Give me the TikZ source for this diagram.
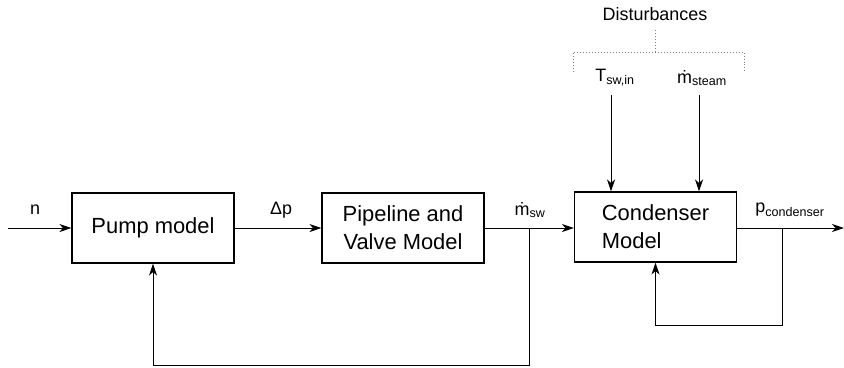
\documentclass[tikz,border=0pt]{standalone}
\usepackage{fontspec}
\setmainfont{Liberation Sans}
\usetikzlibrary{arrows.meta}
\begin{document}
\begin{tikzpicture}[x=1bp, y=-1bp,
  block/.style={draw, line width=1.1bp, minimum width=162bp, minimum height=70bp,
    inner sep=0pt, font=\fontsize{22}{28}\selectfont},
  sig/.style={font=\fontsize{18}{20}\selectfont, inner sep=0pt},
  flow/.style={line width=1bp, -{Stealth[length=12bp, width=8bp, inset=3.5bp]}},
  bracket/.style={gray, dotted, line width=1bp}]
\useasboundingbox (0,0) rectangle (844,367);
% blocks
\node (pump) [block] at (153,228) {Pump model};
\node (pipe) [block, align=center] at (403,228) {Pipeline and\\Valve Model};
\node (cond) [block, align=left] at (655.5,227) {Condenser\\Model};
% signal labels
\node (n) [sig] at (35,210) {n};
\node (dp) [sig] at (281,210) {Δp};
\node (msw) [sig] at (530,210) {\.{m}\textsubscript{sw}};
\node (pc) [sig] at (790,210) {p\textsubscript{condenser}};
\node (tsw) [sig] at (615,78) {T\textsubscript{sw,in}};
\node (mst) [sig] at (702,78) {\.{m}\textsubscript{steam}};
\node (dist) [sig] at (655,14) {Disturbances};
% connection points
\coordinate (in) at (8,228);
\coordinate (br1) at (529,228);
\coordinate (br2) at (782,228);
\coordinate (out) at (844,228);
\coordinate (tin) at (611,95);
\coordinate (sin) at (699,95);
% signals
\draw [flow] (in) -- (pump);
\draw [flow] (pump) -- (pipe);
\draw [flow] (pipe.east |- br1) -- (cond.west |- br1);
\draw [flow] (cond.east |- br2) -- (out);
\draw [flow] (br1) -- ++(0,137) -| (pump.south);
\draw [flow] (br2) -- ++(0,97) -| (cond.south);
\draw [flow] (tin) -- (tin |- cond.north);
\draw [flow] (sin) -- (sin |- cond.north);
% disturbance bracket
\draw [bracket] (573,72) -- (573,52) -- (744,52) -- (744,72);
\draw [bracket] (dist.south |- 0,52) -- ++(0,-23);
\end{tikzpicture}
\end{document}
